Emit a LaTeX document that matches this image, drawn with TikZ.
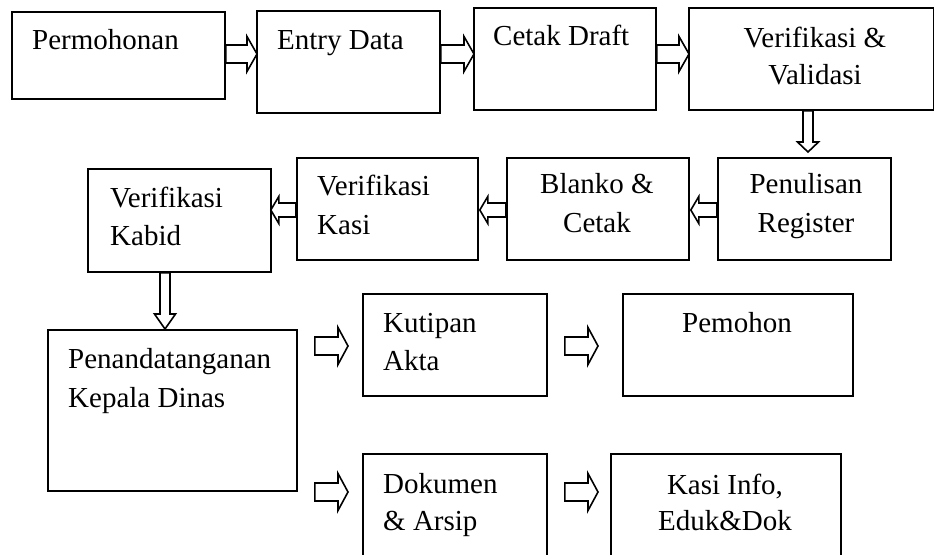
\documentclass[tikz,border=0pt]{standalone}
\usepackage{fontspec}
\setmainfont{Liberation Serif}
\usetikzlibrary{calc}
\newcommand{\blockarrow}[5]{%
  \path (#1) coordinate (ba-s) (#2) coordinate (ba-e);
  \path ($(ba-e)!#5!(ba-s)$) coordinate (ba-h);
  \draw[arrowline] ($(ba-s)!#3!90:(ba-e)$) -- ($(ba-h)!#3!90:(ba-e)$) -- ($(ba-h)!#4!90:(ba-e)$) -- (ba-e) -- ($(ba-h)!#4!-90:(ba-e)$) -- ($(ba-h)!#3!-90:(ba-e)$) -- ($(ba-s)!#3!-90:(ba-e)$) -- cycle;
}
\begin{document}
\begin{tikzpicture}[x=1pt,y=-1pt,
  box/.style={draw=black, line width=1.8pt, fill=none, inner sep=0pt, anchor=north west},
  arrowline/.style={draw=black, line width=1.6pt, fill=white, line join=miter},
  txt/.style={inner sep=0pt, font=\fontsize{29pt}{38pt}\selectfont, text=black},
  lt/.style={txt, anchor=base west},
  ct/.style={txt, anchor=base}]
\useasboundingbox (0,0) rectangle (934,554);
\clip (0,0) rectangle (934,554);
% boxes
\node[box, minimum width=213pt, minimum height=87pt]  (perm)    at (11,11)  {};
\node[box, minimum width=183pt, minimum height=102pt] (entry)   at (256,10) {};
\node[box, minimum width=182pt, minimum height=102pt] (cetak)   at (473,7)  {};
\node[box, minimum width=245pt, minimum height=102pt] (verval)  at (688,7)  {};
\node[box, minimum width=173pt, minimum height=102pt] (penul)   at (717,157) {};
\node[box, minimum width=182pt, minimum height=102pt] (blanko)  at (506,157) {};
\node[box, minimum width=181pt, minimum height=102pt] (kasi)    at (296,157) {};
\node[box, minimum width=183pt, minimum height=103pt] (kabid)   at (87,168) {};
\node[box, minimum width=249pt, minimum height=161pt] (penanda) at (47,329) {};
\node[box, minimum width=184pt, minimum height=102pt] (kutipan) at (362,293) {};
\node[box, minimum width=230pt, minimum height=102pt] (pemohon) at (622,293) {};
\node[box, minimum width=184pt, minimum height=150pt] (dokumen) at (362,453) {};
\node[box, minimum width=230pt, minimum height=150pt] (kasiinfo) at (610,453) {};
% texts
\node[lt] (perm-t)  at (32,49)  {Permohonan};
\node[lt] (entry-t) at (277,49) {Entry Data};
\node[lt] (cetak-t) at (493,45) {Cetak Draft};
\node[ct] (verval-t1) at (815,47) {Verifikasi \&};
\node[ct] (verval-t2) at (815,84) {Validasi};
\node[ct] (penul-t1) at (806,193) {Penulisan};
\node[ct] (penul-t2) at (806,232) {Register};
\node[ct] (blanko-t1) at (597,193) {Blanko \&};
\node[ct] (blanko-t2) at (597,232) {Cetak};
\node[lt] (kasi-t1) at (317,195) {Verifikasi};
\node[lt] (kasi-t2) at (317,234) {Kasi};
\node[lt] (kabid-t1) at (110,207) {Verifikasi};
\node[lt] (kabid-t2) at (110,245) {Kabid};
\node[lt] (penanda-t1) at (68,368) {Penandatanganan};
\node[lt] (penanda-t2) at (68,407) {Kepala Dinas};
\node[lt] (kutipan-t1) at (383,332) {Kutipan};
\node[lt] (kutipan-t2) at (383,370) {Akta};
\node[ct] (pemohon-t) at (737,332) {Pemohon};
\node[lt] (dokumen-t1) at (383,493) {Dokumen};
\node[lt] (dokumen-t2) at (383,530) {\& Arsip};
\node[ct] (kasiinfo-t1) at (725,494) {Kasi Info,};
\node[ct] (kasiinfo-t2) at (725,530) {Eduk\&Dok};
% row guides
\coordinate (r1) at (0,54);
\coordinate (r2) at (0,210);
\coordinate (r3) at (0,346);
\coordinate (r4) at (0,492);
\coordinate (c1) at (808,0);
\coordinate (c2) at (165,0);
% arrows
\blockarrow{perm.east |- r1}{$(entry.west |- r1)+(1,0)$}{9pt}{17.5pt}{10pt}
\blockarrow{entry.east |- r1}{$(cetak.west |- r1)+(1,0)$}{9pt}{17.5pt}{10pt}
\blockarrow{cetak.east |- r1}{$(verval.west |- r1)+(1,0)$}{9pt}{17.5pt}{10pt}
\blockarrow{c1 |- verval.south}{$(c1 |- penul.north)+(0,-5)$}{5pt}{10.5pt}{10pt}
\blockarrow{penul.west |- r2}{$(blanko.east |- r2)+(1,0)$}{7pt}{13.5pt}{8pt}
\blockarrow{blanko.west |- r2}{$(kasi.east |- r2)+(1,0)$}{7pt}{13.5pt}{8pt}
\blockarrow{kasi.west |- r2}{$(kabid.east |- r2)+(-1,0)$}{7pt}{13.5pt}{8pt}
\blockarrow{c2 |- kabid.south}{c2 |- penanda.north}{5pt}{10.5pt}{15pt}
\blockarrow{$(penanda.east |- r3)+(17,0)$}{$(kutipan.west |- r3)+(-14,0)$}{9pt}{18.5pt}{10pt}
\blockarrow{$(kutipan.east |- r3)+(17,0)$}{$(pemohon.west |- r3)+(-24,0)$}{9pt}{18.5pt}{10pt}
\blockarrow{$(penanda.east |- r4)+(17,0)$}{$(dokumen.west |- r4)+(-14,0)$}{9pt}{18.5pt}{10pt}
\blockarrow{$(dokumen.east |- r4)+(17,0)$}{$(kasiinfo.west |- r4)+(-12,0)$}{9pt}{18.5pt}{10pt}
\end{tikzpicture}
\end{document}
